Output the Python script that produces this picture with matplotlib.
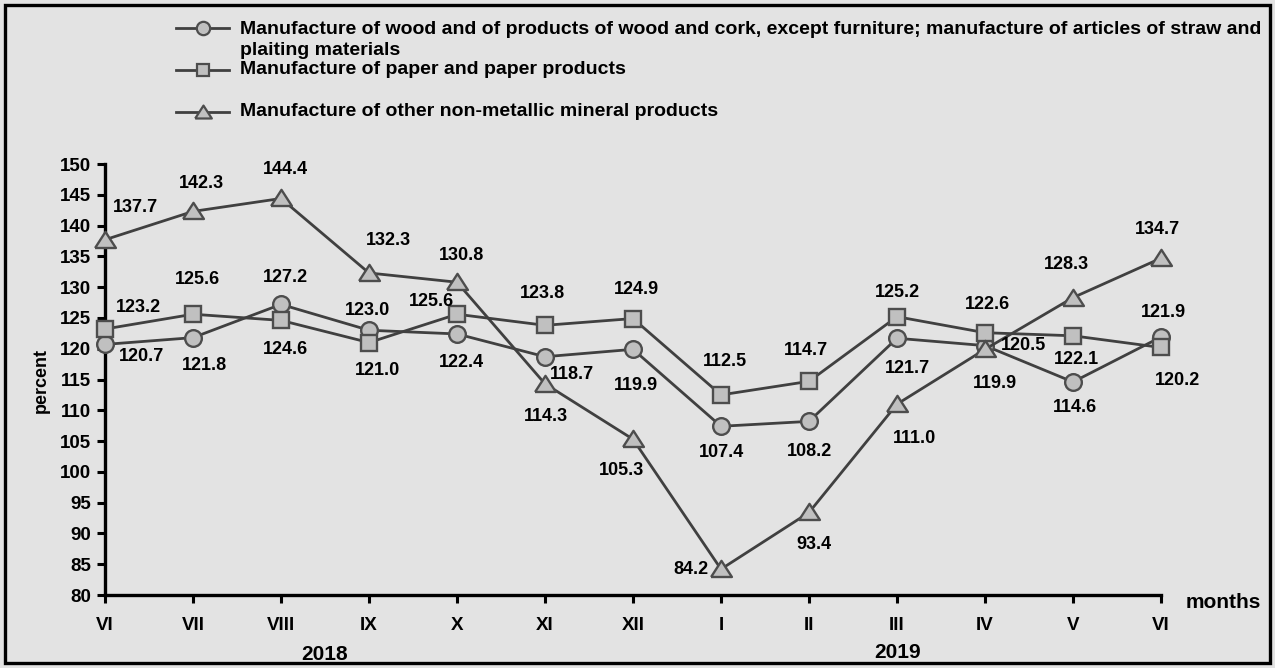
import matplotlib
matplotlib.use('Agg')
import matplotlib.pyplot as plt
from matplotlib.lines import Line2D
from matplotlib.patches import Rectangle

plt.rcParams['font.family'] = ['Liberation Sans', 'DejaVu Sans']
plt.rcParams['font.weight'] = 'bold'

# data
months = ['VI', 'VII', 'VIII', 'IX', 'X', 'XI', 'XII', 'I', 'II', 'III', 'IV', 'V', 'VI']
wood = [120.7, 121.8, 127.2, 123.0, 122.4, 118.7, 119.9, 107.4, 108.2, 121.7, 120.5, 114.6, 121.9]
paper = [123.2, 125.6, 124.6, 121.0, 125.6, 123.8, 124.9, 112.5, 114.7, 125.2, 122.6, 122.1, 120.2]
mineral = [137.7, 142.3, 144.4, 132.3, 130.8, 114.3, 105.3, 84.2, 93.4, 111.0, 119.9, 128.3, 134.7]
names = ['Manufacture of wood and of products of wood and cork, except furniture; manufacture of articles of straw and\nplaiting materials',
         'Manufacture of paper and paper products',
         'Manufacture of other non-metallic mineral products']

# label offsets in pixels (dx right, dy down)
wood_off = [(37, 12), (11, 28), (4, -27), (-2, -20), (4, 29), (27, 18), (3, 36),
            (0, 26), (0, 30), (10, 30), (38, 0), (2, 26), (2, -25)]
paper_off = [(33, -22), (4, -35), (4, 29), (8, 28), (-26, -13), (-3, -32), (3, -29),
             (4, -33), (-3, -31), (0, -24), (2, -28), (3, 24), (17, 33)]
mineral_off = [(30, -32), (8, -28), (4, -29), (19, -32), (5, -27), (1, 33), (-12, 31),
               (-30, 0), (5, 32), (17, 34), (10, 34), (-7, -33), (-4, -29)]

W, H = 1275, 668
bg = '#e3e3e3'
line_c = '#404040'
face_c = '#c0c0c0'
edge_c = '#4d4d4d'

# flattened triangle like the original
tri = [(-1, -0.72), (1, -0.72), (0, 0.83), (-1, -0.72)]

fig = plt.figure(figsize=(W / 100, H / 100), dpi=100, facecolor=bg)
ax = fig.add_axes([105 / W, (H - 595) / H, (1161 - 105) / W, (595 - 164) / H])
ax.set_facecolor(bg)

x = list(range(len(months)))
series = [(wood, 'o', 12, wood_off), (paper, 's', 11.5, paper_off), (mineral, tri, 15, mineral_off)]
for i, (vals, mk, ms, offs) in enumerate(series):
    ax.plot(x, vals, color=line_c, lw=2, marker=mk, ms=ms, mfc=face_c, mec=edge_c,
            mew=1.7, zorder=3 + i, clip_on=False)
    for xi, v, (dx, dy) in zip(x, vals, offs):
        ax.annotate(f'{v:.1f}', (xi, v), xytext=(dx, -dy), textcoords='offset pixels',
                    ha='center', va='center', fontsize=13, fontweight='bold', zorder=10)

ax.set_xlim(0, 12)
ax.set_ylim(80, 150)
ax.set_xticks(x)
ax.set_xticklabels(months)
ax.set_yticks(range(80, 151, 5))
ax.tick_params(axis='both', direction='out', length=6, width=2.2, labelsize=13.5, pad=4)
ax.tick_params(axis='x', pad=10)
for s in ['top', 'right']:
    ax.spines[s].set_visible(False)
for s in ['left', 'bottom']:
    ax.spines[s].set_linewidth(2.4)

fig.text(41 / W, 1 - 380 / H, 'percent', rotation=90, ha='center', va='center', fontsize=13)
fig.text(1223 / W, 1 - 603 / H, 'months', ha='center', va='center', fontsize=15)
fig.text(325 / W, 1 - 655 / H, '2018', ha='center', va='center', fontsize=15)
fig.text(898 / W, 1 - 652 / H, '2019', ha='center', va='center', fontsize=15)

# legend drawn by hand
leg_y = [28, 70, 112]
for (vals, mk, ms, offs), name, yy in zip(series, names, leg_y):
    fy = 1 - yy / H
    fig.add_artist(Line2D([176 / W, 229 / W], [fy, fy], color=line_c, lw=2))
    fig.add_artist(Line2D([203 / W], [fy], marker=mk, ms=ms * 0.8, mfc=face_c, mec=edge_c,
                          mew=1.6, lw=0))
    ty = fy if '\n' not in name else 1 - 40 / H
    fig.text(240 / W, ty, name, ha='left', va='center', fontsize=14, linespacing=1.35)

# outer frame
fig.add_artist(Rectangle((5 / W, 5 / H), (W - 10) / W, (H - 10) / H, transform=fig.transFigure,
                         fill=False, ec='black', lw=2.4))

fig.savefig('out.png', dpi=100, facecolor=bg)
